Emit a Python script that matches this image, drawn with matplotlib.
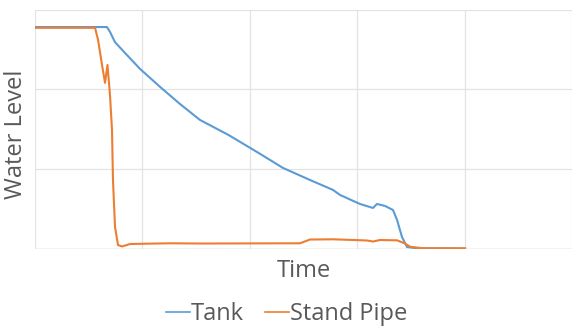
import matplotlib
matplotlib.use("Agg")
import matplotlib.pyplot as plt
from matplotlib.lines import Line2D

# Water level traces (arbitrary time / level units)
tank_time = [0.0, 0.67, 0.698, 0.745, 0.838, 0.978, 1.164, 1.35, 1.536, 1.797,
             2.067, 2.309, 2.56, 2.775, 2.84, 3.026, 3.147, 3.184, 3.259, 3.333,
             3.371, 3.417, 3.464, 3.557, 4.004]
tank_level = [2.78, 2.78, 2.72, 2.59, 2.455, 2.255, 2.03, 1.815, 1.615, 1.43,
              1.213, 1.013, 0.862, 0.737, 0.674, 0.561, 0.511, 0.561, 0.536, 0.486,
              0.361, 0.147, 0.021, 0.005, 0.003]

pipe_time = [0.0, 0.559, 0.587, 0.624, 0.652, 0.675, 0.698, 0.717, 0.726, 0.745,
             0.773, 0.81, 0.885, 1.257, 1.536, 2.467, 2.56, 2.775, 3.091, 3.147,
             3.212, 3.371, 3.445, 3.492, 3.613, 4.004]
pipe_level = [2.77, 2.77, 2.62, 2.305, 2.08, 2.305, 1.93, 1.49, 0.862, 0.272,
              0.046, 0.028, 0.059, 0.068, 0.065, 0.068, 0.115, 0.118, 0.103, 0.09,
              0.109, 0.105, 0.065, 0.025, 0.005, 0.004]

series_names = ["Tank", "Stand Pipe"]
x_ticks = [0, 1, 2, 3, 4, 5]
y_ticks = [0, 1, 2, 3]

BLUE = "#5B9BD5"
ORANGE = "#ED7D31"
TEXT = "#595959"
GRID = "#e3e3e3"

plt.rcParams["font.family"] = ["Open Sans", "DejaVu Sans"]

fig = plt.figure(figsize=(5.74, 3.29), dpi=100)
ax = fig.add_axes([35 / 574, 1 - 248.7 / 329, (572 - 35) / 574, (248.7 - 9.5) / 329])

ax.plot(tank_time, tank_level, color=BLUE, lw=1.5, solid_joinstyle="round")
ax.plot(pipe_time, pipe_level, color=ORANGE, lw=1.5, solid_joinstyle="round")

ax.set_xlim(x_ticks[0], x_ticks[-1])
ax.set_ylim(y_ticks[0], y_ticks[-1])
ax.set_xticks(x_ticks)
ax.set_yticks(y_ticks)
ax.tick_params(length=0, labelbottom=False, labelleft=False)
ax.grid(True, color=GRID, lw=0.9)
ax.set_axisbelow(True)
for s in ax.spines.values():
    s.set_visible(False)
ax.axhline(0, color="#d6d6d6", lw=1.0, zorder=0.5)

fig.text(304 / 574, 1 - 277 / 329, "Time", ha="center", va="baseline",
         fontsize=17, color=TEXT)
fig.text(16 / 574, 1 - 134 / 329, "Water Level", ha="center", va="center",
         rotation=90, fontsize=17, color=TEXT)

handles = [Line2D([], [], color=BLUE, lw=1.2),
           Line2D([], [], color=ORANGE, lw=1.2)]
fig.legend(handles, series_names, loc="center", bbox_to_anchor=(287 / 574, 1 - 314 / 329),
           ncol=2, frameon=False, fontsize=17, labelcolor=TEXT,
           handlelength=1.0, handletextpad=0.05, columnspacing=0.9,
           borderaxespad=0, borderpad=0)

fig.savefig("out.png", dpi=100)
